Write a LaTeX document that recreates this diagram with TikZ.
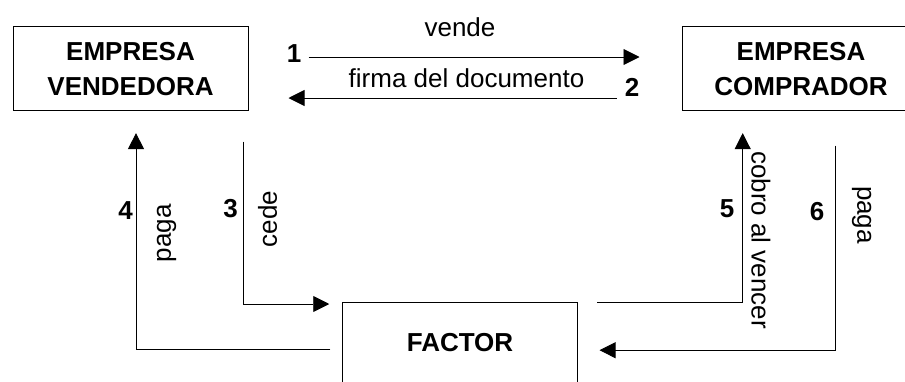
\documentclass[tikz,border=0pt]{standalone}
\usepackage{fontspec}
\setmainfont{Liberation Sans}
\usetikzlibrary{arrows.meta}

\newcommand{\diagfont}{\fontsize{26}{35}\selectfont}

\tikzset{
  box/.style={draw, line width=1pt, inner sep=0pt, align=center, font=\diagfont\bfseries},
  flow/.style={line width=.9pt, -{Triangle[length=16pt,width=16pt]}},
  num/.style={inner sep=0pt, font=\diagfont\bfseries},
  lbl/.style={inner sep=0pt, font=\diagfont}
}

\begin{document}
\begin{tikzpicture}[x=1pt, y=-1pt]
				\useasboundingbox (0,0) rectangle (905,381);
				\clip (0,0) rectangle (905,381);
				\node[box, minimum width=235pt, minimum height=84pt] (vend) at (130.5,68.6) {EMPRESA\\VENDEDORA};
				\node[box, minimum width=238pt, minimum height=84pt] (comp) at (801,68.6) {EMPRESA\\COMPRADOR};
				\node[box, minimum width=235.5pt, text height=48.5pt, text depth=65pt, anchor=base] (factor) at (460,351) {FACTOR};
				\draw[flow] ([xshift=60pt, yshift=11.6pt]vend.east) -- ([xshift=-42pt, yshift=11.6pt]comp.west);
				\draw[flow] ([xshift=-65pt, yshift=-29.4pt]comp.west) -- ([xshift=40pt, yshift=-29.4pt]vend.east);
				\draw[flow] ([xshift=113pt, yshift=-30.4pt]vend.south) |- ([xshift=-12.5pt, yshift=-2pt]factor.north west);
				\draw[flow] ([xshift=-11.5pt, yshift=-47.5pt]factor.north west) -| ([xshift=5.5pt, yshift=-22pt]vend.south);
				\draw[flow] ([xshift=19pt, yshift=-.5pt]factor.north east) -| ([xshift=-58.3pt, yshift=-22pt]comp.south);
				\draw[flow] ([xshift=34pt, yshift=-34.4pt]comp.south) |- ([xshift=21.3pt, yshift=-48.2pt]factor.north east);
				\foreach \n/\x/\y in {1/294/54, 2/632/87.5, 3/230.5/208.5, 4/125.5/210.5, 5/727/209, 6/817/211.5}
					\node[num] (n\n) at (\x,\y) {\n};
				\node[lbl] (vende) at (460,27.5) {vende};
				\node[lbl] (firma) at (466.5,78) {firma del documento};
				\node[lbl, rotate=90] (cede) at (267.5,219) {cede};
				\node[lbl, rotate=90] (pagaV) at (166.7,233.3) {paga};
				\node[lbl, rotate=-90] (cobro) at (761,240) {cobro al vencer};
				\node[lbl, rotate=-90] (pagaC) at (861.7,215) {paga};
			\end{tikzpicture}
\end{document}
